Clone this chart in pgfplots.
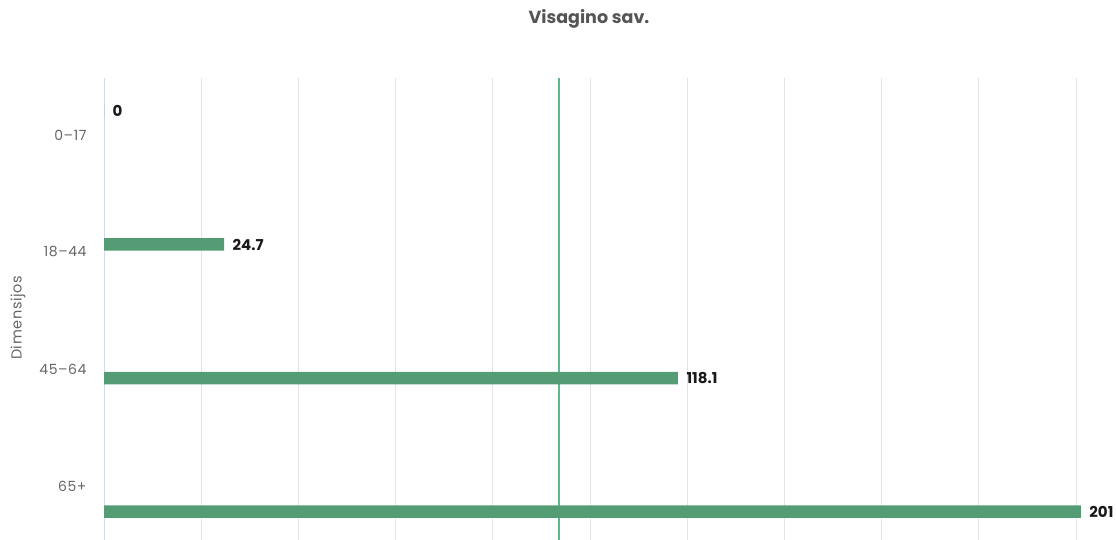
\documentclass[border=0pt]{standalone}
\usepackage{pgfplots}
\pgfplotsset{compat=1.18}
\usepackage{fontspec}
\setmainfont{Poppins}
\newfontfamily\tickfont[LetterSpace=4]{Poppins}
\definecolor{barg}{RGB}{84,156,115}
\definecolor{lineg}{RGB}{94,184,140}
\definecolor{gridc}{RGB}{228,228,228}
\definecolor{axc}{RGB}{210,220,232}
\definecolor{tickc}{RGB}{102,102,102}
\definecolor{titc}{RGB}{85,85,85}
\begin{document}
\begin{tikzpicture}
\begin{axis}[
  at={(104pt,0pt)}, anchor=south west,
  scale only axis, width=986.6pt, height=462pt,
  xmin=0, xmax=203, ymin=78, ymax=540, y dir=reverse,
  axis line style={draw=none},
  xtick={20,40,...,200}, xticklabels={}, major tick length=0pt,
  xmajorgrids, grid style={draw=gridc, line width=1pt},
  extra x ticks={0}, extra x tick labels={},
  extra x tick style={grid style={draw=axc, line width=1pt}},
  ytick={135,252,369,486},
  yticklabels={0–17,18–44,45–64,65+},
  yticklabel style={font=\tickfont\fontsize{14}{16}\selectfont, text=tickc, xshift=-14pt},
  clip=false,
]
\addplot[draw=lineg, line width=2pt] coordinates {(93.6,78) (93.6,540)};
\addplot[xbar, bar width=12.5pt, bar shift=0pt, fill=barg, draw=none,
  point meta=explicit symbolic,
  nodes near coords,
  nodes near coords style={font=\bfseries\fontsize{15}{17}\selectfont, text=black!90, anchor=west, xshift=5pt}]
  coordinates {(0,111) [0] (24.7,244.5) [24.7] (118.1,378) [118.1] (201,511.5) [201]};
\end{axis}
\node[font=\bfseries\fontsize{17.5}{20}\selectfont, text=titc] at (589pt,521pt) {Visagino sav.};
\node[rotate=90, font=\tickfont\fontsize{14.5}{16}\selectfont, text=tickc] at (18pt,222pt) {Dimensijos};
\pgfresetboundingbox
\useasboundingbox (0,0) rectangle (1116pt,540pt);
\end{tikzpicture}
\end{document}
